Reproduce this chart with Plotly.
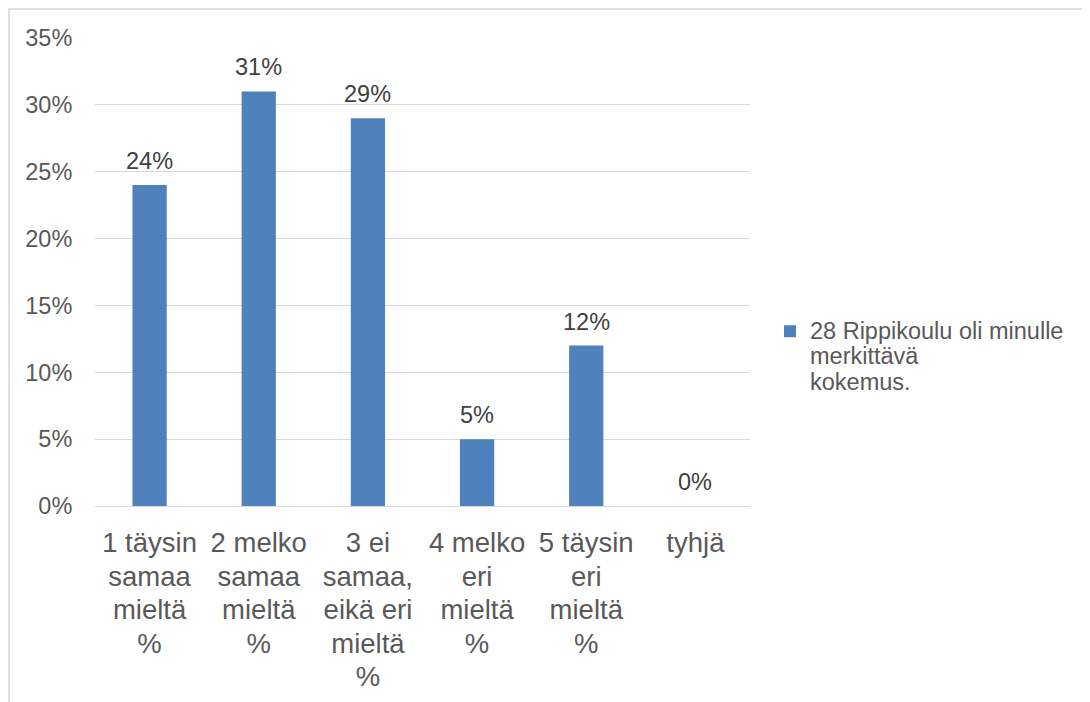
import plotly.graph_objects as go

category_lines = [
    ["1 täysin", "samaa", "mieltä", "%"],
    ["2 melko", "samaa", "mieltä", "%"],
    ["3 ei", "samaa,", "eikä eri", "mieltä", "%"],
    ["4 melko", "eri", "mieltä", "%"],
    ["5 täysin", "eri", "mieltä", "%"],
    ["tyhjä"],
]
values = [24, 31, 29, 5, 12, 0]
series_lines = ["28 Rippikoulu oli minulle", "merkittävä", "kokemus."]
y_ticks = [0, 5, 10, 15, 20, 25, 30, 35]

FONT = "Liberation Sans, Arial, sans-serif"
GRAY = "#595959"


def wrap(lines, px):
    return "<br>".join(f"<span style='font-size:{px}px'>{ln}</span>" for ln in lines)


categories = [wrap(c, 27.5) for c in category_lines]
series_name = wrap(series_lines, 23.5)

fig = go.Figure()
fig.add_trace(go.Bar(
    x=categories,
    y=values,
    name=series_name,
    marker=dict(color="#4f81bd", line=dict(width=0)),
    showlegend=True,
))

for c, v in zip(categories, values):
    fig.add_annotation(
        x=c, y=v, xref="x", yref="y",
        text=f"{v}%",
        showarrow=False,
        yanchor="bottom",
        yshift=9,
        font=dict(family=FONT, size=23.5, color="#404040"),
    )

# figure coords = page coords - 8 (body margin)
L, R, T, B = 87, 348, 30, 204
W, H = 1090, 702
pw = W - L - R
ph = H - T - B

fig.update_layout(
    width=W, height=H,
    margin=dict(l=L, r=R, t=T, b=B, pad=0),
    paper_bgcolor="white",
    plot_bgcolor="white",
    bargap=0.686,
    font=dict(family=FONT, color=GRAY),
    xaxis=dict(
        tickfont=dict(family=FONT, size=25.8, color=GRAY),
        showgrid=False,
        showline=True,
        linecolor="#d9d9d9",
        linewidth=1,
        ticks="outside",
        ticklen=14,
        tickcolor="rgba(0,0,0,0)",
    ),
    yaxis=dict(
        range=[0, 35],
        tickvals=y_ticks,
        ticktext=[f"{t}%" for t in y_ticks],
        tickfont=dict(family=FONT, size=23.5, color=GRAY),
        showgrid=True,
        gridcolor="#d9d9d9",
        gridwidth=1,
        zeroline=False,
        showline=False,
        ticks="outside",
        ticklen=17,
        tickcolor="rgba(0,0,0,0)",
    ),
    legend=dict(
        x=(762 - L) / pw,
        xanchor="left",
        y=(T + ph - 304) / ph,
        yanchor="top",
        font=dict(family=FONT, size=19.6, color=GRAY),
        valign="top",
        itemwidth=30,
        bgcolor="rgba(0,0,0,0)",
    ),
    shapes=[dict(
        type="rect", xref="paper", yref="paper",
        x0=(1 - L) / pw, x1=(W + 10 - L) / pw,
        y0=(T + ph - (H + 10)) / ph, y1=(T + ph - 1) / ph,
        line=dict(color="#d9d9d9", width=1.5),
        fillcolor="rgba(0,0,0,0)",
        layer="below",
    )],
)

fig.write_html("out.html")
